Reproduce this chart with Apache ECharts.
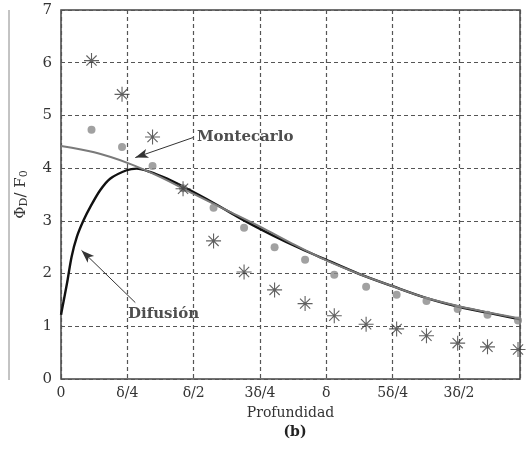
<!DOCTYPE html>
<html>
<head>
<meta charset="utf-8">
<script src="https://cdn.jsdelivr.net/npm/echarts@6/dist/echarts.min.js"></script>
<style>html,body{margin:0;padding:0;background:#fff;}#c{width:526px;height:453px;}</style>
</head>
<body>
<div id="c"></div>
<script>
// x in units of δ/4
const xTickLabels = ['0', 'δ/4', 'δ/2', '3δ/4', 'δ', '5δ/4', '3δ/2'];
const sampleX = [0.46, 0.92, 1.38, 1.84, 2.30, 2.76, 3.22, 3.68, 4.12, 4.60, 5.06, 5.51, 5.98, 6.43, 6.89];
const starY = [6.04, 5.40, 4.59, 3.61, 2.62, 2.03, 1.69, 1.43, 1.20, 1.04, 0.95, 0.82, 0.68, 0.61, 0.56];
const dotY = [4.73, 4.40, 4.04, 3.62, 3.25, 2.87, 2.50, 2.26, 1.98, 1.75, 1.60, 1.48, 1.33, 1.22, 1.11];
const monteX = [0, 0.5, 1.0, 1.5, 2.0, 2.5, 3.0, 3.5, 4.0, 4.5, 5.0, 5.5, 6.0, 6.5, 6.92];
const monteY = [4.42, 4.30, 4.10, 3.83, 3.51, 3.20, 2.89, 2.56, 2.25, 1.99, 1.76, 1.54, 1.38, 1.25, 1.15];
const difX = [0, 0.09, 0.16, 0.24, 0.34, 0.44, 0.59, 0.74, 0.99, 1.14, 1.34, 1.6, 1.84, 2.3, 2.8, 3.2, 3.6, 4.0, 4.5, 5.0, 5.5, 6.0, 6.5, 6.92];
const difY = [1.22, 1.81, 2.32, 2.70, 3.01, 3.26, 3.58, 3.80, 3.96, 3.99, 3.93, 3.80, 3.65, 3.34, 2.98, 2.72, 2.48, 2.26, 1.99, 1.76, 1.54, 1.37, 1.24, 1.13];
const labelMonte = { text: 'Montecarlo', at: [2.05, 4.58], from: [1.99, 4.58], to: [1.12, 4.20] };
const labelDif = { text: 'Difusión', at: [1.01, 1.23], from: [1.12, 1.45], to: [0.31, 2.44] };

const FONT = 'DejaVu Serif';
const zip = (xs, ys) => xs.map((x, i) => [x, ys[i]]);
const star = 'path://M5,0L5,10M0,5L10,5M1.6,1.6L8.4,8.4M1.6,8.4L8.4,1.6';

const chart = echarts.init(document.getElementById('c'), null, { renderer: 'canvas' });
chart.setOption({
  animation: false,
  backgroundColor: '#fff',
  textStyle: { fontFamily: FONT },
  title: {
    text: '(b)', left: 290, top: 420, textAlign: 'center',
    textStyle: { fontFamily: FONT, fontSize: 14, fontWeight: 'bold', color: '#222' }
  },
  grid: { left: 61, right: 6, top: 10, bottom: 74, show: true, borderColor: '#444', borderWidth: 1.5, backgroundColor: 'transparent' },
  xAxis: {
    type: 'value', min: 0, max: 6.92, interval: 1,
    name: 'Profundidad', nameLocation: 'middle', nameGap: 27,
    nameTextStyle: { fontFamily: FONT, fontSize: 14, color: '#333' },
    axisLine: { show: false }, axisTick: { show: false },
    axisLabel: { formatter: v => xTickLabels[Math.round(v)] ?? '', showMaxLabel: false, fontFamily: FONT, fontSize: 14, color: '#333', margin: 7 },
    splitLine: { show: true, lineStyle: { type: [4, 3], color: '#555', width: 1.2 } }
  },
  yAxis: {
    type: 'value', min: 0, max: 7, interval: 1,
    name: '{a|Φ}{s|D}{a|/ F}{s|0}', nameLocation: 'middle', nameGap: 31, nameRotate: 90,
    nameTextStyle: {
      color: '#333',
      rich: {
        a: { fontFamily: FONT, fontSize: 15, color: '#333' },
        s: { fontFamily: FONT, fontSize: 11, color: '#333', verticalAlign: 'bottom', padding: [6, 0, 0, 0] }
      }
    },
    axisLine: { show: false }, axisTick: { show: false },
    axisLabel: { fontFamily: FONT, fontSize: 15, color: '#333', margin: 9 },
    splitLine: { show: true, lineStyle: { type: [4, 3], color: '#555', width: 1.2 } }
  },
  graphic: [
    { type: 'line', shape: { x1: 9, y1: 10, x2: 9, y2: 380 }, style: { stroke: '#888', lineWidth: 1 } }
  ],
  series: [
    {
      name: 'Difusion', type: 'line', data: zip(difX, difY), smooth: 0.3, showSymbol: false,
      lineStyle: { color: '#111', width: 2.4 }, z: 3
    },
    {
      name: 'Montecarlo', type: 'line', data: zip(monteX, monteY), smooth: 0.3, showSymbol: false,
      lineStyle: { color: '#7a7a7a', width: 2 }, z: 4
    },
    {
      name: 'dots', type: 'scatter', data: zip(sampleX, dotY), symbol: 'circle', symbolSize: 8,
      itemStyle: { color: '#8a8a8a' }, z: 5
    },
    {
      name: 'stars', type: 'scatter', data: zip(sampleX, starY), symbol: star, symbolSize: 15,
      itemStyle: { color: 'rgba(0,0,0,0)', borderColor: '#3a3a3a', borderWidth: 1.1 }, z: 6
    },
    {
      name: 'labels', type: 'scatter', symbolSize: 0, silent: true, z: 7,
      data: [
        { value: labelMonte.at, name: labelMonte.text },
        { value: labelDif.at, name: labelDif.text }
      ],
      label: { show: true, position: 'right', distance: 0, formatter: p => p.name, fontFamily: FONT, fontSize: 15, fontWeight: 'bold', color: '#222' },
      markLine: {
        silent: true, symbol: ['none', 'arrow'], symbolSize: [7, 13],
        lineStyle: { color: '#333', width: 1, type: 'solid' },
        label: { show: false },
        data: [
          [{ coord: labelMonte.from }, { coord: labelMonte.to }],
          [{ coord: labelDif.from }, { coord: labelDif.to }]
        ]
      }
    }
  ]
});
</script>
</body>
</html>
